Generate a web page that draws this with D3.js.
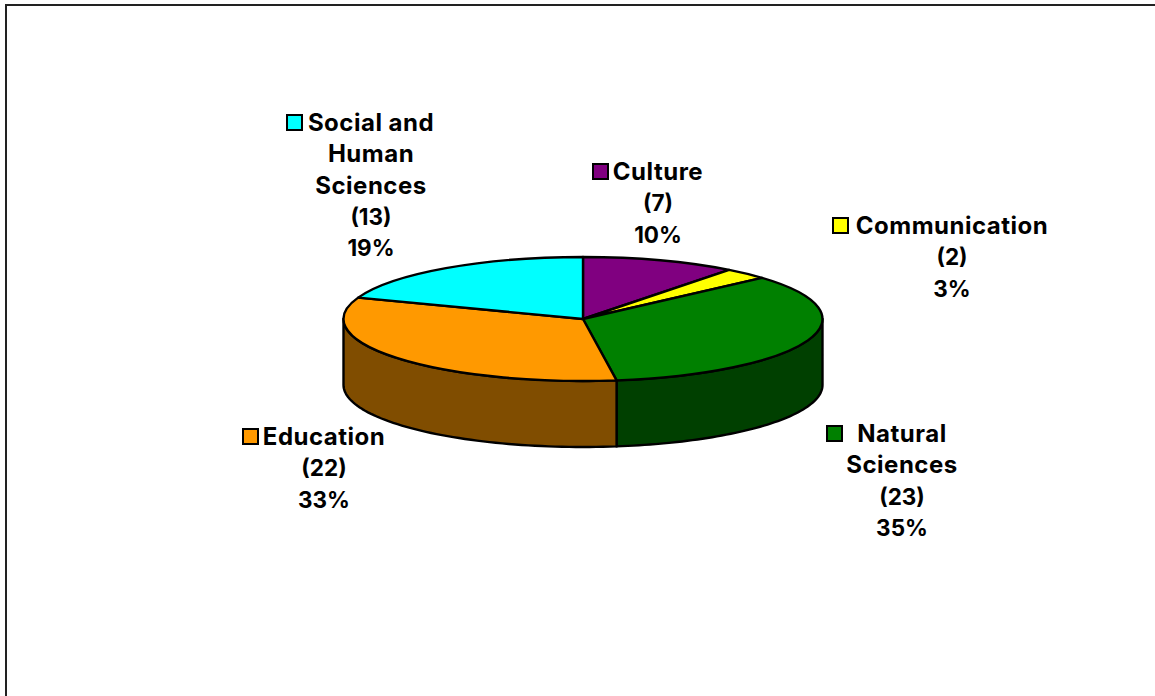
<!DOCTYPE html>
<html>
<head>
<meta charset="utf-8">
<script src="https://cdnjs.cloudflare.com/ajax/libs/d3/7.8.5/d3.min.js"></script>
<style>
html,body{margin:0;padding:0;background:#fff;}
svg{display:block;}
text{font-family:"Inter","Lato",sans-serif;font-weight:700;font-size:23.5px;fill:#000;}
text.name{font-size:24px;letter-spacing:0.5px;}
text.figure{font-size:22.5px;}
</style>
</head>
<body>
<svg id="chart" width="1155" height="696"></svg>
<script>
const categories = ["Culture", "Communication", "Natural Sciences", "Education", "Social and Human Sciences"];
const counts = [7, 2, 23, 22, 13];
const percentLabels = ["10%", "3%", "35%", "33%", "19%"];
const topColors = ["#800080", "#ffff00", "#008000", "#ff9900", "#00ffff"];
const wallColors = ["#400040", "#808000", "#004000", "#804d00", "#008080"];
// Wrapped name lines of each label, with the anchor of the text block
const labelLines = [["Culture"], ["Communication"], ["Natural", "Sciences"], ["Education"], ["Social and", "Human", "Sciences"]];
const labelCenters = [658, 952, 902, 324, 371];
const labelTops = [180, 234, 442, 445, 131];
const swatchX = [592, 832, 826, 242, 286];

const width = 1155, height = 696;
const cx = 583, cy = 319, rx = 239.5, ry = 62, depth = 66;
const lineGap = 31.3;

const svg = d3.select("#chart");

// Frame of the chart area
svg.append("path")
  .attr("d", `M6,${height}V5H${width}`)
  .attr("fill", "none").attr("stroke", "#222").attr("stroke-width", 2);

const pie = d3.pie().sort(null).value(d => d)(counts);
const xProj = d3.scaleLinear().domain([-1, 1]).range([cx - rx, cx + rx]);
const yProj = d3.scaleLinear().domain([-1, 1]).range([cy - ry, cy + ry]);
const px = a => xProj(Math.sin(a));
const py = a => yProj(-Math.cos(a));

// Walls: only the part of the rim facing the viewer (PI/2 to 3PI/2) is visible
const wallGroup = svg.append("g");
pie.forEach((s, i) => {
  const a0 = Math.max(s.startAngle, Math.PI / 2);
  const a1 = Math.min(s.endAngle, 3 * Math.PI / 2);
  if (a1 <= a0) return;
  const steps = d3.range(0, 61).map(k => a0 + (a1 - a0) * k / 60);
  const rim = steps.map(a => [px(a), py(a)]);
  const lower = steps.slice().reverse().map(a => [px(a), py(a) + depth]);
  wallGroup.append("path")
    .attr("d", d3.line()(rim.concat(lower)) + "Z")
    .attr("fill", wallColors[i])
    .attr("stroke", "#000").attr("stroke-width", 2.4).attr("stroke-linejoin", "round");
});

// Top face: circular wedges squashed into an ellipse
const arc = d3.arc().innerRadius(0).outerRadius(rx);
svg.append("g")
  .attr("transform", `translate(${cx},${cy}) scale(1,${ry / rx})`)
  .selectAll("path").data(pie).join("path")
  .attr("d", arc)
  .attr("fill", (d, i) => topColors[i])
  .attr("stroke", "#000").attr("stroke-width", 2.4)
  .attr("stroke-linejoin", "round")
  .attr("vector-effect", "non-scaling-stroke");

// Labels with legend swatch, name lines, count and percentage
categories.forEach((c, i) => {
  const names = labelLines[i];
  const lines = names.concat([`(${counts[i]})`, percentLabels[i]]);
  const g = svg.append("g");
  g.append("rect")
    .attr("x", swatchX[i] + 1).attr("y", labelTops[i] - 16)
    .attr("width", 15).attr("height", 15)
    .attr("fill", topColors[i]).attr("stroke", "#000").attr("stroke-width", 2);
  lines.forEach((t, k) => {
    g.append("text")
      .attr("class", k < names.length ? "name" : "figure")
      .attr("x", labelCenters[i])
      .attr("y", labelTops[i] + k * lineGap)
      .attr("text-anchor", "middle")
      .text(t);
  });
});
</script>
</body>
</html>
